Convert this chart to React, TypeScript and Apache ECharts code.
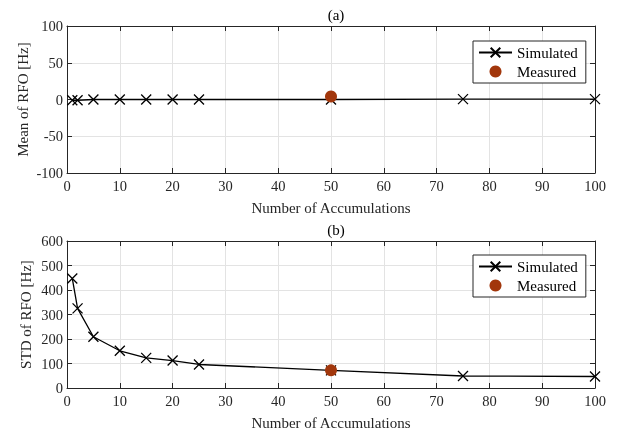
import React, { useEffect, useRef } from "react";
import * as echarts from "echarts";

const accumulations = [1, 2, 5, 10, 15, 20, 25, 50, 75, 100];
const meanSimulated = [-1, -1, 0, 0, 0, 0, 0, 0, 0.5, 0.5];
const stdSimulated = [447, 325, 209, 152, 123, 112, 96, 72, 49, 47];
const measuredX = [50];
const meanMeasured = [4];
const stdMeasured = [72];

const FONT = "'Liberation Serif', 'Times New Roman', serif";
const AXIS_COLOR = "#262626";
const MEASURED_COLOR = "#A2370C";
const CROSS = "path://M0,0L10,10M10,0L0,10";

export default function App() {
  const ref = useRef<HTMLDivElement>(null);
  useEffect(() => {
    if (!ref.current) return;
    const chart = echarts.init(ref.current, undefined, { renderer: "svg" });
    const pair = (xs: number[], ys: number[]) => xs.map((x, i) => [x, ys[i]]);

    const grids = [
      { left: 67, right: 25, top: 26, height: 147 },
      { left: 67, right: 25, top: 241, height: 147 },
    ];
    const tickStyle = { inside: true, length: 5, lineStyle: { color: AXIS_COLOR, width: 1 } };
    const lineStyle = { show: true, onZero: false, lineStyle: { color: AXIS_COLOR, width: 1 } };
    const labelStyle = { fontFamily: FONT, fontSize: 14.5, color: "#262626" };

    const xAxes: any[] = [];
    const yAxes: any[] = [];
    const yRanges = [
      { min: -100, max: 100, interval: 50, name: "Mean of RFO [Hz]", gap: 37 },
      { min: 0, max: 600, interval: 100, name: "STD of RFO [Hz]", gap: 34 },
    ];
    [0, 1].forEach((g) => {
      xAxes.push({
        type: "value",
        gridIndex: g,
        min: 0,
        max: 100,
        interval: 10,
        position: "bottom",
        name: "Number of Accumulations",
        nameLocation: "middle",
        nameGap: 27,
        nameMoveOverlap: false,
        nameTextStyle: { fontFamily: FONT, fontSize: 15, color: "#262626" },
        axisLine: lineStyle,
        axisTick: tickStyle,
        axisLabel: { ...labelStyle, margin: 5 },
        splitLine: { show: true, lineStyle: { color: "#e3e3e3", width: 1 } },
      });
      xAxes.push({
        type: "value",
        gridIndex: g,
        min: 0,
        max: 100,
        interval: 10,
        position: "top",
        axisLine: lineStyle,
        axisTick: tickStyle,
        axisLabel: { show: false },
        splitLine: { show: false },
      });
      const r = yRanges[g];
      yAxes.push({
        type: "value",
        gridIndex: g,
        min: r.min,
        max: r.max,
        interval: r.interval,
        position: "left",
        name: r.name,
        nameLocation: "middle",
        nameGap: r.gap,
        nameMoveOverlap: false,
        nameTextStyle: { fontFamily: FONT, fontSize: 15, color: "#262626" },
        axisLine: lineStyle,
        axisTick: tickStyle,
        axisLabel: { ...labelStyle, margin: 4 },
        splitLine: { show: true, lineStyle: { color: "#e3e3e3", width: 1 } },
      });
      yAxes.push({
        type: "value",
        gridIndex: g,
        min: r.min,
        max: r.max,
        interval: r.interval,
        position: "right",
        axisLine: lineStyle,
        axisTick: tickStyle,
        axisLabel: { show: false },
        splitLine: { show: false },
      });
    });

    const simSeries = (g: number, ys: number[]) => ({
      name: "Simulated",
      type: "line",
      xAxisIndex: g * 2,
      yAxisIndex: g * 2,
      data: pair(accumulations, ys),
      symbol: CROSS,
      symbolSize: 10,
      showAllSymbol: true,
      lineStyle: { color: "#000", width: 1.3 },
      itemStyle: { color: "none", borderColor: "#000", borderWidth: 1.3 },
      z: 3,
    });
    const measSeries = (g: number, ys: number[]) => ({
      name: "Measured",
      type: "scatter",
      xAxisIndex: g * 2,
      yAxisIndex: g * 2,
      data: pair(measuredX, ys),
      symbol: "circle",
      symbolSize: 12,
      itemStyle: { color: MEASURED_COLOR, opacity: 1 },
      z: 10,
    });

    const legendCommon = {
      orient: "vertical",
      left: 473,
      width: 108,
      itemWidth: 33,
      itemHeight: 12,
      itemGap: 4,
      padding: [4, 8, 4, 5],
      borderColor: "#262626",
      borderWidth: 1,
      backgroundColor: "#fff",
      textStyle: { fontFamily: FONT, fontSize: 15, color: "#000" },
      data: ["Simulated", "Measured"],
      selectedMode: false,
    };

    const titleStyle = { fontFamily: FONT, fontSize: 15, fontWeight: "normal", color: "#000" };
    chart.setOption({
      animation: false,
      title: [
        { text: "(a)", left: 331, top: 2, textAlign: "center", textStyle: titleStyle },
        { text: "(b)", left: 331, top: 217, textAlign: "center", textStyle: titleStyle },
      ],
      legend: [
        { ...legendCommon, top: 41 },
        { ...legendCommon, top: 255 },
      ],
      grid: grids,
      xAxis: xAxes,
      yAxis: yAxes,
      series: [
        simSeries(0, meanSimulated),
        measSeries(0, meanMeasured),
        simSeries(1, stdSimulated),
        measSeries(1, stdMeasured),
      ],
    });
    return () => chart.dispose();
  }, []);
  return <div ref={ref} style={{ position: "fixed", left: 0, top: 0, width: 620, height: 433 }} />;
}
